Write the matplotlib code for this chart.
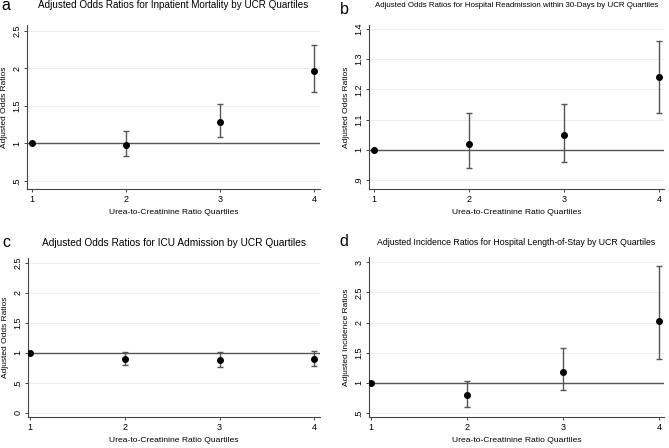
import matplotlib
matplotlib.use("Agg")
import matplotlib.pyplot as plt

plt.rcParams['font.family'] = ['Liberation Sans', 'DejaVu Sans']

quartiles = [1, 2, 3, 4]

# inpatient mortality
mort_or = [1.0, 0.98, 1.29, 1.97]
mort_lo = [1.0, 0.83, 1.09, 1.68]
mort_hi = [1.0, 1.17, 1.53, 2.31]

# readmission within 30 days
readm_or = [1.0, 1.02, 1.05, 1.24]
readm_lo = [1.0, 0.94, 0.96, 1.12]
readm_hi = [1.0, 1.12, 1.15, 1.36]

# ICU admission
icu_or = [1.0, 0.90, 0.88, 0.90]
icu_lo = [1.0, 0.79, 0.77, 0.78]
icu_hi = [1.0, 1.02, 1.01, 1.03]

# length of stay
los_ir = [1.0, 0.79, 1.18, 2.02]
los_lo = [1.0, 0.60, 0.88, 1.39]
los_hi = [1.0, 1.03, 1.57, 2.94]

W, H = 669, 448
fig = plt.figure(figsize=(W / 100, H / 100), dpi=100)


def box(l, t, r, b):
    return [l / W, 1 - b / H, (r - l) / W, (b - t) / H]


panels = [
    dict(pos=box(27, 25, 320, 189), letter='a', lpos=(1, 6),
         title='Adjusted Odds Ratios for Inpatient Mortality by UCR Quartiles', tsize=7.1, tpad=12,
         y=mort_or, lo=mort_lo, hi=mort_hi, ylim=(0.39, 2.58),
         yticks=[0.5, 1, 1.5, 2, 2.5], ylabels=['.5', '1', '1.5', '2', '2.5'],
         ylabel='Adjusted Odds Ratios', xlim=(0.947, 4.06)),
    dict(pos=box(369, 25, 664, 189), letter='b', lpos=(340, 9),
         title='Adjusted Odds Ratios for Hospital Readmission within 30-Days by UCR Quartiles', tsize=5.7, tpad=13,
         y=readm_or, lo=readm_lo, hi=readm_hi, ylim=(0.87, 1.413),
         yticks=[0.9, 1, 1.1, 1.2, 1.3, 1.4], ylabels=['.9', '1', '1.1', '1.2', '1.3', '1.4'],
         ylabel='Adjusted Odds Ratios', xlim=(0.947, 4.05)),
    dict(pos=box(28, 258, 320, 417), letter='c', lpos=(2, 242),
         title='Adjusted Odds Ratios for ICU Admission by UCR Quartiles', tsize=7.3, tpad=9,
         y=icu_or, lo=icu_lo, hi=icu_hi, ylim=(-0.07, 2.58),
         yticks=[0, 0.5, 1, 1.5, 2, 2.5], ylabels=['0', '.5', '1', '1.5', '2', '2.5'],
         ylabel='Adjusted Odds Ratios', xlim=(0.98, 4.06)),
    dict(pos=box(369, 257, 664, 417), letter='d', lpos=(339, 241),
         title='Adjusted Incidence Ratios for Hospital Length-of-Stay by UCR Quartiles', tsize=6.3, tpad=9,
         y=los_ir, lo=los_lo, hi=los_hi, ylim=(0.43, 3.09),
         yticks=[0.5, 1, 1.5, 2, 2.5, 3], ylabels=['.5', '1', '1.5', '2', '2.5', '3'],
         ylabel='Adjusted Incidence Ratios', xlim=(0.98, 4.05)),
]

for p in panels:
    ax = fig.add_axes(p['pos'])
    err = [[v - l for v, l in zip(p['y'], p['lo'])],
           [h - v for v, h in zip(p['y'], p['hi'])]]
    ax.axhline(1, color='#555555', lw=1.0, zorder=2)
    ax.errorbar(quartiles, p['y'], yerr=err, fmt='o', color='black', ms=4,
                ecolor='#555555', elinewidth=1.0, capsize=2.2, capthick=1.0, zorder=3)
    ax.set_xlim(*p['xlim'])
    ax.set_ylim(*p['ylim'])
    ax.set_xticks(quartiles)
    ax.set_xticklabels([str(q) for q in quartiles])
    ax.set_yticks(p['yticks'])
    ax.set_yticklabels(p['ylabels'], rotation=90, va='center')
    ax.grid(axis='y', color='#eeeeee', lw=0.8, zorder=0)
    ax.set_axisbelow(True)
    for s in ['top', 'right']:
        ax.spines[s].set_visible(False)
    for s in ['left', 'bottom']:
        ax.spines[s].set_color('#444444')
        ax.spines[s].set_linewidth(0.8)
    ax.tick_params(labelsize=6.5, length=2.5, width=0.7, color='#444444', pad=1.5)
    ax.set_xlabel('Urea-to-Creatinine Ratio Quartiles', fontsize=6.1, labelpad=4)
    ax.set_ylabel(p['ylabel'], fontsize=6.0, labelpad=3)
    ax.set_title(p['title'], fontsize=p['tsize'], pad=p['tpad'])
    fig.text(p['lpos'][0] / W, 1 - p['lpos'][1] / H, p['letter'], fontsize=11.5,
             ha='left', va='center')

fig.savefig('out.png', dpi=100)
